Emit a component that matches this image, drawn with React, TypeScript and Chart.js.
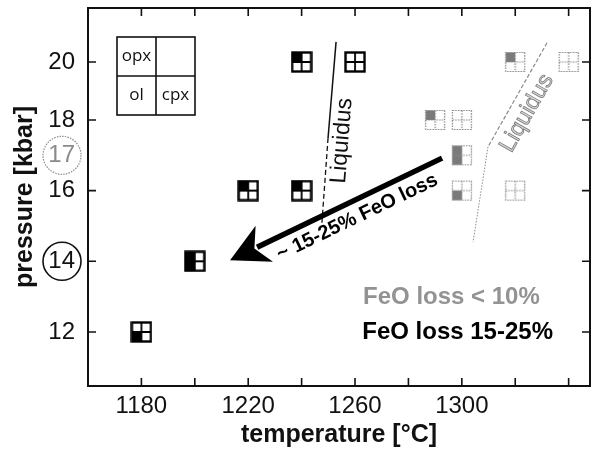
import React, { useEffect, useRef } from 'react';
import { Chart, registerables, LinearScale } from 'chart.js';

Chart.register(...registerables);

// ---------------- data ----------------
const temperatureTicks = [1180, 1200, 1220, 1240, 1260, 1280, 1300, 1320, 1340];
const temperatureLabels = [1180, 1220, 1260, 1300];
const pressureTicks = [12, 14, 16, 18, 20];
const pressureExtraLabels = [17];
const circledPressures = [14, 17];

// FeO loss 15-25% (black symbols)
const highLossT = [1180, 1200, 1220, 1240, 1240, 1260];
const highLossP = [12, 14, 16, 16, 20, 20];
const highLossPhases = ['ol', 'opx ol', 'opx', 'opx', 'opx', ''];

// FeO loss < 10% (grey symbols)
const lowLossT = [1290, 1300, 1300, 1300, 1320, 1320, 1340];
const lowLossP = [18, 18, 17, 16, 20, 16, 20];
const lowLossPhases = ['opx', '', 'opx ol', 'ol', 'opx', '', ''];

// liquidus curves
const liquidusSolidT = [1252.9, 1249.9];
const liquidusSolidP = [20.69, 17.49];
const liquidusDashedT = [1249.9, 1247.6];
const liquidusDashedP = [17.49, 15.09];
const greyLiquidusUpperT = [1331.9, 1309.8];
const greyLiquidusUpperP = [20.66, 17.24];
const greyLiquidusLowerT = [1309.8, 1304.2];
const greyLiquidusLowerP = [17.24, 14.54];

// arrow (start -> tip)
const arrowT = [1292.6, 1213.2];
const arrowP = [16.92, 14.03];

// annotation anchors (T, P)
const liquidusLabelAt = [1255.1, 17.41];
const greyLiquidusLabelAt = [1324.4, 18.24];
const legendLowAt = [1263.0, 12.99];
const legendHighAt = [1262.7, 12.0];

// pressure axis of the original figure is compressed above 18 kbar
const warpAbove = 18;
const warpFactor = 0.821;

const warp = (v: number) => (v <= warpAbove ? v : warpAbove + (v - warpAbove) * warpFactor);
const unwarp = (w: number) => (w <= warpAbove ? w : warpAbove + (w - warpAbove) / warpFactor);

class WarpedScale extends LinearScale {
  static id = 'warped';
  static defaults = LinearScale.defaults;
  getPixelForValue(value: number) {
    const a = warp(this.min);
    const b = warp(this.max);
    return this.getPixelForDecimal((warp(value) - a) / (b - a));
  }
  getValueForPixel(pixel: number) {
    const a = warp(this.min);
    const b = warp(this.max);
    return unwarp(a + this.getDecimalForPixel(pixel) * (b - a));
  }
}
Chart.register(WarpedScale as any);

const zip = (xs: number[], ys: number[]) => xs.map((x, i) => ({ x, y: ys[i] }));

function makeSymbol(phases: string, faded: boolean): HTMLCanvasElement {
  const S = 22;
  const c = document.createElement('canvas');
  c.width = S;
  c.height = S;
  const g = c.getContext('2d')!;
  const o = 1.5;
  const w = 19;
  const h = w / 2;
  const m = o + h;
  const quads: Record<string, number[]> = { opx: [o, o], ol: [o, m], cpx: [m, m] };
  g.fillStyle = '#fff';
  g.fillRect(o, o, w, w);
  g.fillStyle = faded ? '#7a7a7a' : '#000';
  phases
    .split(' ')
    .filter(Boolean)
    .forEach((p) => {
      const q = quads[p];
      g.fillRect(q[0], q[1], h, h);
    });
  g.strokeStyle = faded ? '#8a8a8a' : '#000';
  if (faded) g.setLineDash([1.6, 1.1]);
  g.lineWidth = faded ? 1.2 : 2.4;
  g.strokeRect(o, o, w, w);
  g.lineWidth = faded ? 1.2 : 1.8;
  g.beginPath();
  g.moveTo(m, o);
  g.lineTo(m, o + w);
  g.moveTo(o, m);
  g.lineTo(o + w, m);
  g.stroke();
  return c;
}

const FONT = '"Liberation Sans", Arial, sans-serif';

function drawText(
  ctx: CanvasRenderingContext2D,
  text: string,
  x: number,
  y: number,
  angle: number,
  font: string,
  fill: string,
  align: CanvasTextAlign = 'center',
  stroke?: string
) {
  ctx.save();
  ctx.translate(x, y);
  ctx.rotate(angle);
  ctx.font = font;
  ctx.textAlign = align;
  ctx.textBaseline = 'middle';
  ctx.fillStyle = fill;
  ctx.fillText(text, 0, 0);
  if (stroke) {
    ctx.strokeStyle = stroke;
    ctx.lineWidth = 0.8;
    ctx.strokeText(text, 0, 0);
  }
  ctx.restore();
}

const decorPlugin = {
  id: 'decor',
  afterDatasetsDraw(chart: any) {
    const { ctx, chartArea: a, scales } = chart;
    const x = scales.x;
    const y = scales.y;
    ctx.save();

    // arrow
    const x0 = x.getPixelForValue(arrowT[0]);
    const y0 = y.getPixelForValue(arrowP[0]);
    const x1 = x.getPixelForValue(arrowT[1]);
    const y1 = y.getPixelForValue(arrowP[1]);
    const dx = x1 - x0;
    const dy = y1 - y0;
    const len = Math.hypot(dx, dy);
    const ux = dx / len;
    const uy = dy / len;
    const nx = -uy;
    const ny = ux;
    const headLen = 38;
    const headHalf = 20;
    const notch = 27;
    ctx.strokeStyle = '#000';
    ctx.lineWidth = 5.5;
    ctx.lineCap = 'butt';
    ctx.beginPath();
    ctx.moveTo(x0, y0);
    ctx.lineTo(x1 - ux * (notch + 3), y1 - uy * (notch + 3));
    ctx.stroke();
    ctx.fillStyle = '#000';
    ctx.beginPath();
    ctx.moveTo(x1, y1);
    ctx.lineTo(x1 - ux * headLen + nx * headHalf, y1 - uy * headLen + ny * headHalf);
    ctx.lineTo(x1 - ux * notch, y1 - uy * notch);
    ctx.lineTo(x1 - ux * headLen - nx * headHalf, y1 - uy * headLen - ny * headHalf);
    ctx.closePath();
    ctx.fill();

    // arrow label
    const along = 102;
    const off = 16.5;
    const tx = x0 + ux * along + uy * off;
    const ty = y0 + uy * along - ux * off;
    drawText(ctx, '~ 15-25% FeO loss', tx, ty, Math.atan2(-dy, -dx), `bold 20px ${FONT}`, '#000');

    // liquidus labels
    const bl0x = x.getPixelForValue(liquidusDashedT[1]);
    const bl0y = y.getPixelForValue(liquidusDashedP[1]);
    const bl1x = x.getPixelForValue(liquidusSolidT[0]);
    const bl1y = y.getPixelForValue(liquidusSolidP[0]);
    drawText(
      ctx,
      'Liquidus',
      x.getPixelForValue(liquidusLabelAt[0]),
      y.getPixelForValue(liquidusLabelAt[1]),
      Math.atan2(bl1y - bl0y, bl1x - bl0x),
      `23px ${FONT}`,
      '#111'
    );
    const gl0x = x.getPixelForValue(greyLiquidusUpperT[1]);
    const gl0y = y.getPixelForValue(greyLiquidusUpperP[1]);
    const gl1x = x.getPixelForValue(greyLiquidusUpperT[0]);
    const gl1y = y.getPixelForValue(greyLiquidusUpperP[0]);
    drawText(
      ctx,
      'Liquidus',
      x.getPixelForValue(greyLiquidusLabelAt[0]),
      y.getPixelForValue(greyLiquidusLabelAt[1]),
      Math.atan2(gl1y - gl0y, gl1x - gl0x),
      `23px ${FONT}`,
      '#d6d6d6',
      'center',
      '#7a7a7a'
    );

    // legend texts
    drawText(
      ctx,
      'FeO loss < 10%',
      x.getPixelForValue(legendLowAt[0]),
      y.getPixelForValue(legendLowAt[1]),
      0,
      `bold 24px ${FONT}`,
      '#939393',
      'left'
    );
    drawText(
      ctx,
      'FeO loss 15-25%',
      x.getPixelForValue(legendHighAt[0]),
      y.getPixelForValue(legendHighAt[1]),
      0,
      `bold 24px ${FONT}`,
      '#000',
      'left'
    );

    // phase key
    const kx = a.left + 29;
    const ky = a.top + 29;
    const cell = 39;
    ctx.strokeStyle = '#111';
    ctx.lineWidth = 1.6;
    ctx.strokeRect(kx, ky, cell * 2, cell * 2);
    ctx.beginPath();
    ctx.moveTo(kx + cell, ky);
    ctx.lineTo(kx + cell, ky + cell * 2);
    ctx.moveTo(kx, ky + cell);
    ctx.lineTo(kx + cell * 2, ky + cell);
    ctx.stroke();
    const kf = `17px "Open Sans", sans-serif`;
    drawText(ctx, 'opx', kx + cell / 2, ky + cell / 2, 0, kf, '#111');
    drawText(ctx, 'ol', kx + cell / 2, ky + cell * 1.5, 0, kf, '#111');
    drawText(ctx, 'cpx', kx + cell * 1.5, ky + cell * 1.5, 0, kf, '#111');

    // frame
    ctx.setLineDash([]);
    ctx.strokeStyle = '#111';
    ctx.lineWidth = 2;
    ctx.strokeRect(a.left, a.top, a.right - a.left, a.bottom - a.top);

    // inward ticks
    const tl = 8;
    ctx.lineWidth = 1.6;
    ctx.beginPath();
    temperatureTicks.forEach((t) => {
      const px = x.getPixelForValue(t);
      ctx.moveTo(px, a.bottom);
      ctx.lineTo(px, a.bottom - tl);
      ctx.moveTo(px, a.top);
      ctx.lineTo(px, a.top + tl);
    });
    pressureTicks.forEach((p) => {
      const py = y.getPixelForValue(p);
      ctx.moveTo(a.left, py);
      ctx.lineTo(a.left + tl, py);
      ctx.moveTo(a.right, py);
      ctx.lineTo(a.right - tl, py);
    });
    ctx.stroke();

    // circled pressure labels
    circledPressures.forEach((p) => {
      const faded = pressureExtraLabels.includes(p);
      const cy = y.getPixelForValue(p);
      ctx.beginPath();
      ctx.strokeStyle = faded ? '#8a8a8a' : '#111';
      ctx.lineWidth = faded ? 1.2 : 1.6;
      ctx.setLineDash(faded ? [1.5, 1.2] : []);
      ctx.arc(a.left - 26, cy, 19, 0, Math.PI * 2);
      ctx.stroke();
    });
    ctx.restore();
  },
};

export default function App() {
  const ref = useRef<HTMLCanvasElement>(null);

  useEffect(() => {
    if (!ref.current) return;
    const chart = new Chart(ref.current, {
      type: 'scatter',
      data: {
        datasets: [
          {
            data: zip(liquidusSolidT, liquidusSolidP),
            showLine: true,
            borderColor: '#111',
            borderWidth: 1.5,
            pointRadius: 0,
          },
          {
            data: zip(liquidusDashedT, liquidusDashedP),
            showLine: true,
            borderColor: '#111',
            borderWidth: 1.3,
            borderDash: [5, 3],
            pointRadius: 0,
          },
          {
            data: zip(greyLiquidusUpperT, greyLiquidusUpperP),
            showLine: true,
            borderColor: '#8a8a8a',
            borderWidth: 1.2,
            borderDash: [4, 2],
            pointRadius: 0,
          },
          {
            data: zip(greyLiquidusLowerT, greyLiquidusLowerP),
            showLine: true,
            borderColor: '#8a8a8a',
            borderWidth: 1,
            borderDash: [1.5, 1.5],
            pointRadius: 0,
          },
          {
            data: zip(highLossT, highLossP),
            pointStyle: highLossPhases.map((p) => makeSymbol(p, false)),
            pointRadius: 11,
          },
          {
            data: zip(lowLossT, lowLossP),
            pointStyle: lowLossPhases.map((p) => makeSymbol(p, true)),
            pointRadius: 11,
          },
        ] as any,
      },
      options: {
        animation: false,
        responsive: true,
        maintainAspectRatio: false,
        events: [],
        layout: { autoPadding: false, padding: { top: 8, right: 3, left: 0, bottom: 0 } },
        plugins: { legend: { display: false }, tooltip: { enabled: false } },
        scales: {
          x: {
            type: 'linear',
            min: 1160,
            max: 1348,
            afterBuildTicks: (s: any) => {
              s.ticks = temperatureTicks.map((v) => ({ value: v }));
            },
            afterFit: (s: any) => {
              s.height = 67;
              s.paddingLeft = 0;
              s.paddingRight = 0;
              s.paddingTop = 0;
              s.paddingBottom = 0;
            },
            grid: { display: false, drawTicks: false },
            border: { display: false },
            ticks: {
              autoSkip: false,
              maxRotation: 0,
              padding: 6,
              color: '#111',
              font: { family: FONT, size: 24 },
              callback: (v: any) => (temperatureLabels.includes(Number(v)) ? String(v) : ''),
            },
            title: {
              display: true,
              text: 'temperature [°C]',
              color: '#111',
              font: { family: FONT, size: 25, weight: 'bold' },
              padding: { top: 0, bottom: 3 },
            },
          },
          y: {
            type: 'warped' as any,
            min: 10.47,
            max: 21.86,
            afterBuildTicks: (s: any) => {
              s.ticks = [...pressureTicks, ...pressureExtraLabels]
                .sort((p, q) => p - q)
                .map((v) => ({ value: v }));
            },
            afterFit: (s: any) => {
              s.width = 88;
              s.paddingLeft = 0;
              s.paddingRight = 0;
              s.paddingTop = 0;
              s.paddingBottom = 0;
            },
            grid: { display: false, drawTicks: false },
            border: { display: false },
            ticks: {
              autoSkip: false,
              padding: 13,
              color: (c: any) =>
                c.tick && pressureExtraLabels.includes(c.tick.value) ? '#8a8a8a' : '#111',
              font: { family: FONT, size: 24 },
              callback: (v: any) => String(v),
            },
            title: {
              display: true,
              text: 'pressure [kbar]',
              color: '#111',
              font: { family: FONT, size: 25, weight: 'bold' },
              padding: { top: 10, bottom: 0 },
            },
          },
        } as any,
      },
      plugins: [decorPlugin],
    });
    return () => chart.destroy();
  }, []);

  return (
    <div style={{ position: 'fixed', left: 0, top: 0, width: 593, height: 453, background: '#fff' }}>
      <canvas ref={ref} style={{ display: 'block' }} />
    </div>
  );
}
